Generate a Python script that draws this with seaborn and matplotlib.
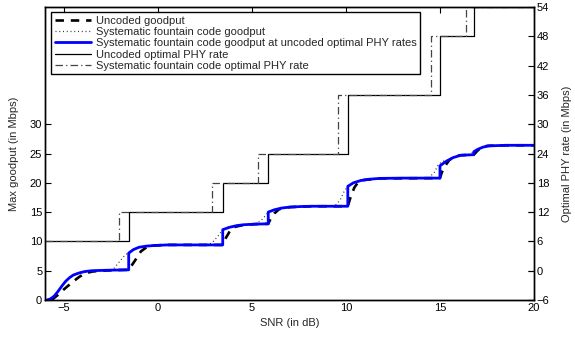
import matplotlib
matplotlib.use("Agg")
import matplotlib.pyplot as plt
import seaborn as sns
import pandas as pd
from matplotlib.lines import Line2D

sns.set_style("white")
plt.rcParams['font.family'] = ['Liberation Sans', 'DejaVu Sans']

# ---------------- data ----------------
# Systematic fountain code goodput at uncoded optimal PHY rates (left axis)
blue_snr = [-5.9, -5.7, -5.5, -5.3, -5.1, -4.9, -4.7, -4.5, -4.2, -3.9, -3.5, -3.0, -2.5, -2.0, -1.55,
            -1.55, -1.3, -1.0, -0.6, -0.2, 0.5, 1.5, 2.5, 3.45,
            3.45, 3.8, 4.2, 4.6, 5.2, 5.87,
            5.87, 6.2, 6.6, 7.0, 7.6, 8.2, 9.0, 10.1,
            10.1, 10.4, 10.8, 11.2, 11.8, 13.0, 15.0,
            15.0, 15.3, 15.7, 16.1, 16.8,
            16.8, 17.0, 17.3, 17.6, 18.5, 20.0]
blue_val = [0.0, 0.2, 0.7, 1.5, 2.4, 3.2, 3.8, 4.25, 4.6, 4.85, 5.0, 5.05, 5.1, 5.12, 5.15,
            8.0, 8.6, 9.0, 9.2, 9.3, 9.4, 9.4, 9.4, 9.4,
            12.0, 12.4, 12.7, 12.85, 12.95, 13.0,
            15.0, 15.4, 15.7, 15.85, 15.95, 16.0, 16.0, 16.0,
            19.4, 20.0, 20.4, 20.6, 20.75, 20.8, 20.8,
            22.9, 23.6, 24.3, 24.7, 24.8,
            25.3, 25.7, 26.1, 26.3, 26.4, 26.4]

# Uncoded goodput (left axis)
unc_snr = [-5.65, -5.3, -5.0, -4.6, -4.2, -3.9, -3.5, -3.0, -2.0, -1.55,
           -1.2, -0.9, -0.6, -0.2, 0.5, 2.5, 3.45,
           3.6, 3.8, 4.0, 4.6, 5.2, 5.87,
           6.0, 6.2, 6.45, 7.0, 8.2, 10.1,
           10.25, 10.45, 10.65, 10.9, 11.8, 15.0,
           15.1, 15.3, 15.5, 15.8, 16.1, 16.8,
           17.0, 17.2, 17.5, 18.5, 20.0]
unc_val = [0.0, 0.9, 1.8, 2.9, 3.9, 4.5, 4.85, 5.0, 5.12, 5.15,
           6.8, 8.3, 9.0, 9.3, 9.4, 9.4, 9.4,
           10.5, 11.6, 12.4, 12.85, 12.95, 13.0,
           13.9, 14.8, 15.5, 15.85, 16.0, 16.0,
           17.6, 19.2, 20.1, 20.45, 20.75, 20.8,
           21.8, 23.0, 23.9, 24.5, 24.7, 24.8,
           25.5, 26.0, 26.3, 26.4, 26.4]

# Systematic fountain code goodput (left axis)
fc_snr = [-5.9, -5.5, -5.1, -4.7, -4.2, -3.5, -3.0, -2.4,
          -2.1, -1.85, -1.55, -1.3, -1.0, -0.6, 0.5, 2.7,
          2.95, 3.2, 3.45, 3.8, 4.6, 5.2,
          5.5, 5.7, 5.87, 6.2, 7.0, 8.2, 9.4,
          9.7, 9.9, 10.1, 10.4, 11.2, 13.0, 14.4,
          14.7, 14.9, 15.1, 15.3, 15.7, 16.1, 16.5,
          16.75, 17.0, 17.3, 17.6, 20.0]
fc_val = [0.0, 0.7, 2.4, 3.8, 4.6, 5.0, 5.05, 5.12,
          6.3, 7.3, 8.2, 8.6, 9.0, 9.2, 9.4, 9.4,
          10.0, 10.9, 12.0, 12.4, 12.85, 13.0,
          13.6, 14.3, 15.0, 15.4, 15.85, 16.0, 16.0,
          17.1, 18.5, 19.4, 20.0, 20.6, 20.8, 20.8,
          21.8, 23.0, 23.6, 23.8, 24.3, 24.7, 24.8,
          25.2, 25.7, 26.1, 26.3, 26.4]

# Optimal PHY rates (right axis), step thresholds in dB
unc_rate_snr = [-6.0, -1.55, -1.55, 3.45, 3.45, 5.87, 5.87, 10.1, 10.1, 15.0, 15.0, 16.8, 16.8, 20.0]
unc_rate_val = [6, 6, 12, 12, 18, 18, 24, 24, 36, 36, 48, 48, 54, 54]
fc_rate_snr = [-6.0, -2.06, -2.06, 2.9, 2.9, 5.35, 5.35, 9.6, 9.6, 14.5, 14.5, 16.4, 16.4, 20.0]
fc_rate_val = [6, 6, 12, 12, 18, 18, 24, 24, 36, 36, 48, 48, 54, 54]

labels = ["Uncoded goodput",
          "Systematic fountain code goodput",
          "Systematic fountain code goodput at uncoded optimal PHY rates",
          "Uncoded optimal PHY rate",
          "Systematic fountain code optimal PHY rate"]

left_ticks = [0, 5, 10, 15, 20, 25, 30]
right_ticks = [-6, 0, 6, 12, 18, 24, 30, 36, 42, 48, 54]
x_ticks = [-5, 0, 5, 10, 15, 20]

# ---------------- figure ----------------
fig = plt.figure(figsize=(5.75, 3.37), dpi=100)
ax = fig.add_axes([45/575, 37/337, 489/575, 293/337])
ax2 = ax.twinx()

dash_ls = (0, (3.2, 2.6))
dot_ls = (0, (0.8, 2.2))
dd_ls = (0, (6, 2.5, 1, 2.5))

sns.lineplot(x=unc_snr, y=unc_val, ax=ax, sort=False, estimator=None,
             color='black', linewidth=1.9, linestyle=dash_ls)
sns.lineplot(x=fc_snr, y=fc_val, ax=ax, sort=False, estimator=None,
             color='#333333', linewidth=0.9, linestyle=dot_ls)
sns.lineplot(x=blue_snr, y=blue_val, ax=ax, sort=False, estimator=None,
             color='#0000ff', linewidth=2.0, linestyle='-')
sns.lineplot(x=unc_rate_snr, y=unc_rate_val, ax=ax2, sort=False, estimator=None,
             color='black', linewidth=0.9, linestyle='-')
sns.lineplot(x=fc_rate_snr, y=fc_rate_val, ax=ax2, sort=False, estimator=None,
             color='#444444', linewidth=0.9, linestyle=dd_ls)

ax.set_xlim(-6, 20)
ax.set_ylim(0, 50)
ax2.set_ylim(-6, 54)
ax.set_xticks(x_ticks)
ax.set_xticklabels(['\u22125', '0', '5', '10', '15', '20'])
ax.set_yticks(left_ticks)
ax2.set_yticks(right_ticks)
ax2.set_yticklabels([('\u22126' if t < 0 else str(t)) for t in right_ticks])

for a in (ax, ax2):
    for s in a.spines.values():
        s.set_color('black')
        s.set_linewidth(1.0)
ax.tick_params(axis='both', direction='in', length=4, width=0.8, labelsize=8,
               top=True, right=True, colors='black', pad=2)
ax2.tick_params(axis='y', direction='in', length=4, width=0.8, labelsize=8,
                colors='black', pad=2)

ax.set_xlabel("SNR (in dB)", fontsize=8, labelpad=4)
ax.set_ylabel("Max goodput (in Mbps)", fontsize=8, labelpad=8)
ax2.set_ylabel("Optimal PHY rate (in Mbps)", fontsize=8, rotation=90, labelpad=9)

handles = [Line2D([], [], color='black', linewidth=1.9, linestyle=dash_ls),
           Line2D([], [], color='#333333', linewidth=0.9, linestyle=dot_ls),
           Line2D([], [], color='#0000ff', linewidth=2.0),
           Line2D([], [], color='black', linewidth=0.9),
           Line2D([], [], color='#444444', linewidth=0.9, linestyle=dd_ls)]
leg = ax2.legend(handles, labels, loc='upper left', bbox_to_anchor=(0.013, 0.982),
                 fontsize=8, frameon=True, fancybox=False, framealpha=1,
                 edgecolor='black', handlelength=3.3, handletextpad=0.45,
                 labelspacing=0.12, borderpad=0.3, borderaxespad=0.0)
leg.get_frame().set_linewidth(1.0)

fig.savefig("out.png", dpi=100)
